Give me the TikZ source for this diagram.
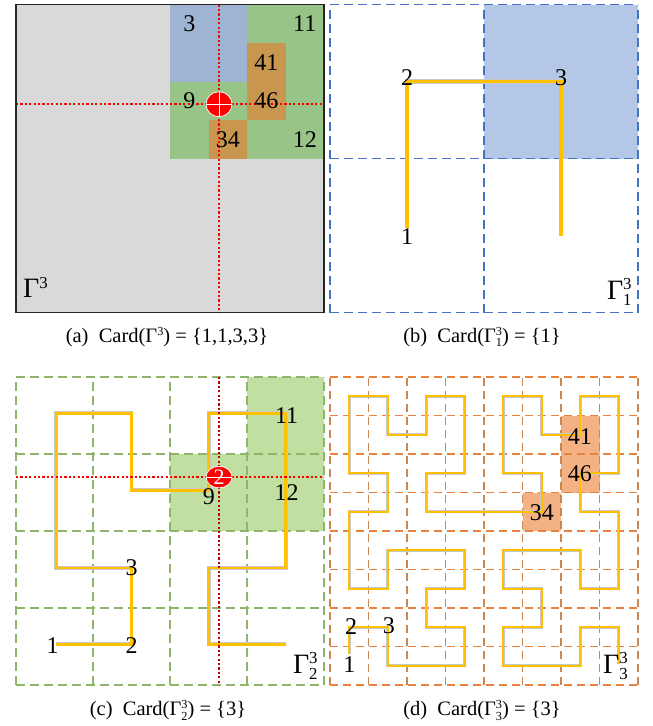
\documentclass[tikz,border=0pt]{standalone}
\usepackage{fontspec}
\usepackage{graphicx}
\setmainfont{Liberation Serif}
\definecolor{agrey}{HTML}{D9D9D9}
\definecolor{ablue}{HTML}{9FB3D3}
\definecolor{agreen}{HTML}{98C587}
\definecolor{abrown}{HTML}{C9964F}
\definecolor{bblue}{HTML}{B4C7E7}
\definecolor{bline}{HTML}{4472C4}
\definecolor{cgreen}{HTML}{C0DFA0}
\definecolor{cline}{HTML}{8FB46B}
\definecolor{dfill}{HTML}{F4B183}
\definecolor{dlineh}{HTML}{E9823F}
\definecolor{dlinev}{HTML}{C98754}
\definecolor{hyellow}{HTML}{FFC000}
\definecolor{hgrey}{HTML}{C8C8C8}
\definecolor{brightred}{HTML}{FF0000}
\definecolor{darkred}{HTML}{C00000}
\newcommand\sps[2]{\rlap{\raisebox{0.34em}{\scalebox{0.6}{#1}}}\raisebox{-0.22em}{\scalebox{0.6}{#2}}}
\newcommand\spo[1]{\raisebox{0.34em}{\scalebox{0.6}{#1}}}
\tikzset{
  num/.style={font=\fontsize{24}{24}\selectfont, inner sep=0pt},
  gam/.style={font=\fontsize{28}{28}\selectfont, inner sep=0pt, anchor=base west},
  captext/.style={font=\fontsize{20.5}{24}\selectfont, inner sep=0pt, anchor=base},
  reddot/.style={draw=brightred, line width=2.2pt, dash pattern=on 2.2pt off 2.2pt},
  bdash/.style={draw=bline, line width=1.8pt, dash pattern=on 9pt off 5pt},
  cdash/.style={draw=cline, line width=1.7pt, dash pattern=on 9pt off 5pt},
  dhdash/.style={draw=dlineh, line width=1.8pt, dash pattern=on 8pt off 5pt},
  dvdash/.style={draw=dlinev, line width=1.8pt, dash pattern=on 8pt off 5pt},
  redspot/.style={draw=white, line width=0.7pt, fill=brightred},
  crossline/.style={draw=white, line width=0.6pt},
}
\begin{document}
\begin{tikzpicture}[x=1pt,y=-1pt]
\useasboundingbox (0,0) rectangle (653,726);
\fill[white] (0,0) rectangle (653,726);

%% ---------------- (a)
\begin{scope}[shift={(16,312.5)},x=38.5pt,y=38.5pt]
  \fill[agrey] (0,0) rectangle (8,8);
  \fill[ablue] (4,6) rectangle (6,8);
  \fill[agreen] (6,6) rectangle (8,8);
  \fill[agreen] (4,4) rectangle (8,6);
  \fill[abrown] (6,5) rectangle (7,7);
  \fill[abrown] (5,4) rectangle (6,5);
  \coordinate (aL) at (0,5.41);
  \coordinate (aR) at (8,5.41);
  \coordinate (aT) at (5.273,8);
  \coordinate (aB) at (5.273,0);
  \coordinate (aC) at (5.273,5.41);
  \draw[reddot] (aL) -- (aR);
  \draw[reddot] (aT) -- (aB);
  \draw[redspot] (aC) ellipse [x radius=13pt, y radius=12.5pt];
  \draw[crossline] ([xshift=-13pt]aC) -- ([xshift=13pt]aC);
  \draw[crossline] ([yshift=-12.5pt]aC) -- ([yshift=12.5pt]aC);
  \node[num] (a3)  at (4.5,7.5) {3};
  \node[num] (a11) at (7.5,7.5) {11};
  \node[num] (a41) at (6.5,6.5) {41};
  \node[num] (a46) at (6.5,5.5) {46};
  \node[num] (a9)  at (4.5,5.5) {9};
  \node[num] (a34) at (5.5,4.5) {34};
  \node[num] (a12) at (7.5,4.5) {12};
  \node[gam] (aG) at (0.18,0.377) {Γ\spo{3}};
  \draw[line width=1.4pt, black!85] (0,0) rectangle (8,8);
\end{scope}

%% ---------------- (b)
\begin{scope}[shift={(330,312.5)},x=38.5pt,y=38.5pt]
  \fill[bblue] (4,4) rectangle (8,8);
  \foreach \k in {0,4,8} {
    \draw[bdash] (\k,0) -- (\k,8);
    \draw[bdash] (0,\k) -- (8,\k);
  }
  \foreach \w/\c in {4.6/hgrey,3.8/hyellow} {
    \draw[line width=\w pt, draw=\c, line join=miter] (2,2.2) -- (2,6) -- (6,6) -- (6,2);
  }
  \node[num] (b2) at (2,6.1) {2};
  \node[num] (b3) at (6,6.1) {3};
  \node[num] (b1) at (2,1.97) {1};
  \node[gam] (bG) at (7.19,0.35) {Γ\sps{3}{1}};
\end{scope}

%% ---------------- (c)
\begin{scope}[shift={(16,685)},x=38.5pt,y=38.5pt]
  \fill[cgreen] (4,4) rectangle (8,6);
  \fill[cgreen] (6,6) rectangle (8,8);
  \foreach \k in {0,2,4,6,8} {
    \draw[cdash] (\k,0) -- (\k,8);
    \draw[cdash] (0,\k) -- (8,\k);
  }
  \foreach \w/\c in {3.6/hgrey,2.8/hyellow} {
    \draw[line width=\w pt, draw=\c, line join=miter]
      (1.04,1.06) -- (3,1.06) -- (3,3.04) -- (1.04,3.04) -- (1.04,7.06) -- (3,7.06)
      -- (3,5.06) -- (5.01,5.06) -- (5.01,7.06) -- (7.01,7.06) -- (7.01,3.04)
      -- (5.01,3.04) -- (5.01,1.06) -- (7.01,1.06);
  }
  \coordinate (cL) at (0,5.40);
  \coordinate (cR) at (8,5.40);
  \coordinate (cT) at (5.273,8);
  \coordinate (cB) at (5.273,0);
  \coordinate (cC) at (5.273,5.40);
  \draw[reddot] (cL) -- (cR);
  \draw[reddot, draw=darkred] (cT) -- (cB);
  \node[num] (c1)  at (0.95,1.03) {1};
  \node[num] (c2)  at (3,1.03) {2};
  \node[num] (c3)  at (3,3.04) {3};
  \node[num] (c9)  at (5.01,4.88) {9};
  \node[num] (c11) at (7.03,7.01) {11};
  \node[num] (c12) at (7.03,4.99) {12};
  \draw[redspot] (cC) ellipse [x radius=13pt, y radius=10.8pt];
  \draw[crossline] ([xshift=-13pt]cC) -- ([xshift=13pt]cC);
  \node[num, text=white, font=\fontsize{22}{22}\selectfont] (cM) at (cC) {2};
  \node[gam] (cG) at (7.19,0.31) {Γ\sps{3}{2}};
\end{scope}

%% ---------------- (d)
\begin{scope}[shift={(330,685)},x=38.5pt,y=38.5pt]
  \fill[dfill] (6,5) rectangle (7,7);
  \fill[dfill] (5,4) rectangle (6,5);
  \foreach \k in {0,...,8} {
    \draw[dvdash] (\k,0) -- (\k,8);
  }
  \foreach \k in {0,...,8} {
    \draw[dhdash] (0,\k) -- (8,\k);
  }
  \begin{scope}[shift={(0.5,0.5)}]
  \foreach \w/\c in {2.6/hgrey,1.9/hyellow} {
    \draw[line width=\w pt, draw=\c, line join=miter]
      (0,0.3) -- (0,1) -- (1,1) -- (1,0) -- (3,0) -- (3,1) -- (2,1) -- (2,2) -- (3,2)
      -- (3,3) -- (1,3) -- (1,2) -- (0,2) -- (0,4) -- (1,4) -- (1,5) -- (0,5) -- (0,7)
      -- (1,7) -- (1,6) -- (2,6) -- (2,7) -- (3,7) -- (3,5) -- (2,5) -- (2,4) -- (5,4)
      -- (5,5) -- (4,5) -- (4,7) -- (5,7) -- (5,6) -- (6,6) -- (6,7) -- (7,7) -- (7,5)
      -- (6,5) -- (6,4) -- (7,4) -- (7,2) -- (6,2) -- (6,3) -- (4,3) -- (4,2) -- (5,2)
      -- (5,1) -- (4,1) -- (4,0) -- (6,0) -- (6,1) -- (7,1) -- (7,0.05);
  }
  \end{scope}
  \node[num] (d1)  at (0.5,0.52) {1};
  \node[num] (d2)  at (0.55,1.53) {2};
  \node[num] (d3)  at (1.53,1.53) {3};
  \node[num] (d41) at (6.49,6.44) {41};
  \node[num] (d46) at (6.49,5.48) {46};
  \node[num] (d34) at (5.5,4.48) {34};
  \node[gam] (dG) at (7.09,0.31) {Γ\sps{3}{3}};
\end{scope}

%% ---------------- captions
\node[captext] (capa) at (167,342) {(a)\ \ Card(Γ\spo{3}) = \{1,1,3,3\}};
\node[captext] (capb) at (482,342) {(b)\ \ Card(Γ\sps{3}{1}) = \{1\}};
\node[captext] (capc) at (168,715.5) {(c)\ \ Card(Γ\sps{3}{2}) = \{3\}};
\node[captext] (capd) at (482,715.5) {(d)\ \ Card(Γ\sps{3}{3}) = \{3\}};
\end{tikzpicture}
\end{document}
